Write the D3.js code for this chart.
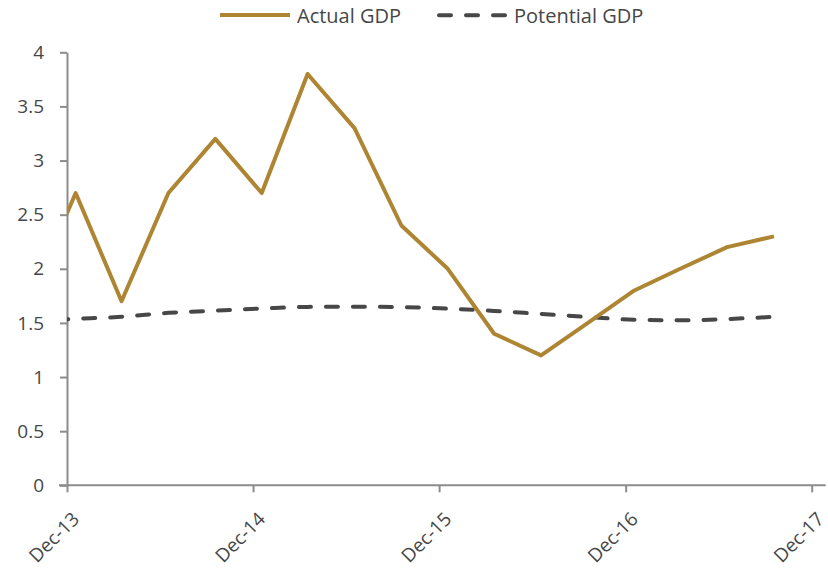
<!DOCTYPE html>
<html>
<head>
<meta charset="utf-8">
<script src="https://cdn.jsdelivr.net/npm/d3@7/dist/d3.min.js"></script>
<style>
  body { margin: 0; background: #fff; }
  svg { display: block; }
  text { font-family: "Open Sans", "Segoe UI", sans-serif; fill: #474747; }
</style>
</head>
<body>
<svg id="chart" width="828" height="588"></svg>
<script>
// Quarterly GDP growth (%), actual vs potential
const quarters = ["2013-09", "2013-12", "2014-03", "2014-06", "2014-09", "2014-12",
                  "2015-03", "2015-06", "2015-09", "2015-12", "2016-03", "2016-06",
                  "2016-09", "2016-12", "2017-03", "2017-06", "2017-09"];
const actualGDP = [1.7, 2.7, 1.7, 2.7, 3.2, 2.7, 3.8, 3.3, 2.4, 2.0, 1.4, 1.2,
                   1.5, 1.8, 2.0, 2.2, 2.3];
const potentialGDP = [1.52, 1.538, 1.557, 1.593, 1.614, 1.633, 1.648, 1.65, 1.646, 1.632,
                      1.611, 1.583, 1.555, 1.529, 1.524, 1.536, 1.557];
const yTicks = [0, 0.5, 1, 1.5, 2, 2.5, 3, 3.5, 4];
const xTicks = ["2013-12", "2014-12", "2015-12", "2016-12", "2017-12"];
const seriesNames = ["Actual GDP", "Potential GDP"];

const gold = "#AE8533";
const darkGrey = "#474747";
const axisGrey = "#8c8c8c";

const parseMonth = d3.timeParse("%Y-%m");
// observations sit a little into their month, axis ticks at month start
const obsDate = s => d3.timeDay.offset(parseMonth(s), 17);

const svg = d3.select("#chart");

const x = d3.scaleTime()
  .domain([parseMonth("2013-12"), parseMonth("2017-12")])
  .range([67, 811.7]);
const y = d3.scaleLinear().domain([0, 4]).range([485.3, 52.3]);

// clip region for the plotting area
svg.append("defs").append("clipPath").attr("id", "plotClip")
  .append("rect")
  .attr("x", x.range()[0]).attr("y", 0)
  .attr("width", x.range()[1] - x.range()[0]).attr("height", 588);

// y axis
const yAxis = svg.append("g")
  .attr("transform", `translate(${x.range()[0]},0)`)
  .call(d3.axisLeft(y).tickValues(yTicks).tickFormat(d3.format("")).tickSize(7).tickSizeOuter(0).tickPadding(16));
yAxis.select(".domain").attr("stroke", axisGrey).attr("stroke-width", 2);
yAxis.selectAll(".tick line").attr("stroke", axisGrey).attr("stroke-width", 2);
yAxis.selectAll(".tick text").style("font-size", "19px").attr("fill", darkGrey);

// x axis
const xAxis = svg.append("g")
  .attr("transform", `translate(0,${y(0)})`)
  .call(d3.axisBottom(x).tickValues(xTicks.map(parseMonth))
    .tickFormat(d3.timeFormat("%b-%y")).tickSize(7).tickSizeOuter(0));
xAxis.select(".domain").attr("stroke", axisGrey).attr("stroke-width", 2)
  .attr("d", `M${x.range()[0] - 8},0H${x.range()[1] + 14}`);
xAxis.selectAll(".tick line").attr("stroke", axisGrey).attr("stroke-width", 2);
xAxis.selectAll(".tick text")
  .style("font-size", "19px").attr("fill", darkGrey)
  .attr("x", 0).attr("y", 0).attr("dy", 0)
  .attr("text-anchor", "end")
  .attr("transform", "translate(13,35) rotate(-45)");

const plot = svg.append("g").attr("clip-path", "url(#plotClip)");

const dates = quarters.map(obsDate);

// potential GDP: dashed, gently smoothed
const potLine = d3.line()
  .x((d, i) => x(dates[i]))
  .y(d => y(d))
  .curve(d3.curveMonotoneX);
plot.append("path")
  .datum(potentialGDP)
  .attr("d", potLine)
  .attr("fill", "none")
  .attr("stroke", darkGrey)
  .attr("stroke-width", 4)
  .attr("stroke-linecap", "round")
  .attr("stroke-dasharray", "12 15");

// actual GDP: solid gold line
const actLine = d3.line()
  .x((d, i) => x(dates[i]))
  .y(d => y(d));
plot.append("path")
  .datum(actualGDP)
  .attr("d", actLine)
  .attr("fill", "none")
  .attr("stroke", gold)
  .attr("stroke-width", 4)
  .attr("stroke-linejoin", "round");

// legend
const legend = svg.append("g");
legend.append("line")
  .attr("x1", 220).attr("x2", 290).attr("y1", 15).attr("y2", 15)
  .attr("stroke", gold).attr("stroke-width", 4);
legend.append("text")
  .attr("x", 297).attr("y", 23)
  .style("font-size", "20px").attr("fill", darkGrey)
  .text(seriesNames[0]);
legend.append("line")
  .attr("x1", 439).attr("x2", 506).attr("y1", 15.3).attr("y2", 15.3)
  .attr("stroke", darkGrey).attr("stroke-width", 4)
  .attr("stroke-linecap", "round").attr("stroke-dasharray", "12 15");
legend.append("text")
  .attr("x", 514).attr("y", 23)
  .style("font-size", "20px").attr("fill", darkGrey)
  .text(seriesNames[1]);
</script>
</body>
</html>
